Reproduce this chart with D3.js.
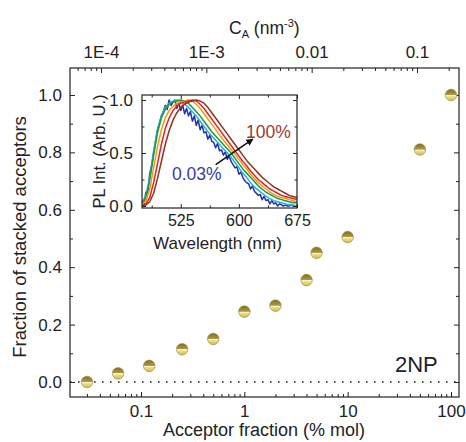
<!DOCTYPE html>
<html>
<head>
<meta charset="utf-8">
<script src="https://cdn.jsdelivr.net/npm/d3@7"></script>
<style>
  body { margin: 0; background: #fff; }
  text { font-family: "Liberation Sans", Arial, sans-serif; fill: #222; }
</style>
</head>
<body>
<svg id="chart" width="466" height="442"></svg>
<script>
// ---- main panel: fraction of stacked acceptors vs acceptor fraction ----
const acceptorFraction = [0.03, 0.06, 0.12, 0.25, 0.5, 1, 2, 4, 5, 10, 50, 100];
const stackedFraction  = [0.0, 0.03, 0.056, 0.114, 0.15, 0.245, 0.266, 0.355, 0.45, 0.505, 0.81, 1.0];

const bottomTicks = [0.1, 1, 10, 100];
const bottomTickLabels = ["0.1", "1", "10", "100"];
const bottomMinor = [0.03,0.04,0.05,0.06,0.07,0.08,0.09,0.2,0.3,0.4,0.5,0.6,0.7,0.8,0.9,
                     2,3,4,5,6,7,8,9,20,30,40,50,60,70,80,90];
const topTicks = [1e-4, 1e-3, 0.01, 0.1];
const topTickLabels = ["1E-4", "1E-3", "0.01", "0.1"];
const topMinor = [6e-5,7e-5,8e-5,9e-5,2e-4,3e-4,4e-4,5e-4,6e-4,7e-4,8e-4,9e-4,
                  0.002,0.003,0.004,0.005,0.006,0.007,0.008,0.009,0.02,0.03,0.04,0.05,0.06,0.07,0.08,0.09,0.2];
const yTicks = [0.0, 0.2, 0.4, 0.6, 0.8, 1.0];
const yMinor = [0.1, 0.3, 0.5, 0.7, 0.9];

// ---- inset: normalised PL spectra ----
const wl = [475,480,485,490,495,500,505,510,515,520,525,530,535,540,545,550,555,560,565,570,
            575,580,585,590,595,600,605,610,615,620,625,630,635,640,645,650,655,660,665,670,675];
const plCyan   = [0.03,0.10,0.27,0.52,0.72,0.85,0.93,0.97,0.99,1.00,0.99,0.96,0.93,0.89,0.85,0.80,0.75,0.70,0.66,0.62,
                  0.58,0.54,0.50,0.46,0.41,0.36,0.31,0.27,0.22,0.18,0.15,0.12,0.09,0.07,0.05,0.04,0.03,0.02,0.01,0.01,0.00];
const plGreen  = [0.02,0.08,0.24,0.48,0.69,0.83,0.91,0.96,0.98,0.99,1.00,0.99,0.97,0.93,0.89,0.85,0.80,0.75,0.70,0.66,
                  0.62,0.58,0.54,0.50,0.45,0.40,0.35,0.31,0.27,0.23,0.19,0.16,0.13,0.11,0.09,0.07,0.06,0.05,0.04,0.03,0.03];
const plOrange = [0.01,0.05,0.16,0.36,0.56,0.72,0.83,0.90,0.94,0.97,0.98,0.99,1.00,0.99,0.96,0.92,0.87,0.82,0.77,0.72,
                  0.67,0.62,0.58,0.53,0.49,0.44,0.39,0.35,0.30,0.26,0.22,0.19,0.16,0.13,0.11,0.09,0.08,0.07,0.06,0.05,0.04];
const plRed    = [0.00,0.02,0.08,0.22,0.40,0.58,0.73,0.83,0.90,0.94,0.97,0.98,0.99,1.00,0.99,0.96,0.92,0.87,0.82,0.77,
                  0.72,0.67,0.62,0.57,0.52,0.47,0.42,0.38,0.33,0.29,0.25,0.22,0.19,0.16,0.14,0.12,0.10,0.09,0.08,0.07,0.06];
const plBrown  = [0.00,0.01,0.04,0.12,0.26,0.42,0.58,0.71,0.81,0.88,0.93,0.96,0.98,0.99,1.00,0.99,0.97,0.93,0.88,0.83,
                  0.78,0.73,0.68,0.63,0.58,0.53,0.48,0.43,0.39,0.35,0.31,0.27,0.24,0.21,0.18,0.16,0.14,0.12,0.10,0.09,0.08];
// lowest concentration: noisier spectrum on a finer wavelength grid
const wlFine = [475,477.5,480,482.5,485,487.5,490,492.5,495,497.5,500,502.5,505,507.5,510,512.5,515,517.5,520,522.5,
                525,527.5,530,532.5,535,537.5,540,542.5,545,547.5,550,552.5,555,557.5,560,562.5,565,567.5,570,572.5,
                575,577.5,580,582.5,585,587.5,590,592.5,595,597.5,600,602.5,605,607.5,610,612.5,615,617.5,620,622.5,
                625,627.5,630,632.5,635,637.5,640,642.5,645,647.5,650,652.5,655,657.5,660,662.5,665,667.5,670,672.5,675];
const plBlue = [0.05,0.01,0.13,0.12,0.31,0.38,0.50,0.61,0.72,0.78,0.85,0.89,0.95,0.91,1.00,0.95,0.98,1.00,0.92,0.97,
                0.90,0.95,0.87,0.92,0.85,0.89,0.80,0.85,0.76,0.81,0.72,0.76,0.69,0.70,0.63,0.67,0.61,0.60,0.55,0.59,
                0.52,0.53,0.48,0.51,0.44,0.47,0.42,0.39,0.36,0.37,0.30,0.32,0.27,0.24,0.22,0.21,0.16,0.19,0.14,0.12,
                0.10,0.11,0.06,0.09,0.05,0.06,0.02,0.05,0.02,0.03,0.00,0.02,0.01,0.00,0.01,0.00,0.00,0.01,0.00,0.00,0.00];

const spectra = [
  { x: wlFine, y: plBlue,   color: "#2b2fa6" },
  { x: wl,     y: plCyan,   color: "#1fb2e6" },
  { x: wl,     y: plGreen,  color: "#1f9a3a" },
  { x: wl,     y: plOrange, color: "#f39a12" },
  { x: wl,     y: plRed,    color: "#e3231f" },
  { x: wl,     y: plBrown,  color: "#8c3424" }
];
const insetXTicks = [525, 600, 675];
const insetXMinor = [487.5, 562.5, 637.5];
const insetYTicks = [0.0, 0.5, 1.0];
const insetYMinor = [0.25, 0.75];

const svg = d3.select("#chart");

// marker shading
const defs = svg.append("defs");
const grad = defs.append("linearGradient").attr("id", "ball")
  .attr("x1", 0).attr("y1", 0).attr("x2", 0).attr("y2", 1);
grad.append("stop").attr("offset", "0").attr("stop-color", "#7e6c22");
grad.append("stop").attr("offset", "0.5").attr("stop-color", "#b09b45");
grad.append("stop").attr("offset", "0.5").attr("stop-color", "#f5eca0");
grad.append("stop").attr("offset", "1").attr("stop-color", "#cdb954");

// scales
const L = 70, R = 459, T = 68, B = 397;
const x = d3.scaleLog().domain([0.02055, 119.5]).range([L, R]);
const xTop = d3.scaleLog().domain([5.08e-5, 0.2506]).range([L, R]);
const y = d3.scaleLinear().domain([-0.0523, 1.094]).range([B, T]);

function styleAxis(g, size) {
  g.select(".domain").remove();
  g.selectAll(".tick line").attr("stroke", "#222").attr("stroke-width", 1);
  g.selectAll(".tick text").style("font-size", (size || 17) + "px").attr("fill", "#222");
}

// zero reference line
svg.append("line")
  .attr("x1", L).attr("x2", R).attr("y1", y(0)).attr("y2", y(0))
  .attr("stroke", "#222").attr("stroke-width", 1.6)
  .attr("stroke-dasharray", "1.6,6.4");

// bottom axis
svg.append("g").attr("transform", `translate(0,${B})`)
  .call(d3.axisBottom(x).tickValues(bottomTicks).tickFormat((d, i) => bottomTickLabels[i])
        .tickSizeInner(-5).tickSizeOuter(0).tickPadding(8)).call(styleAxis);
svg.append("g").attr("transform", `translate(0,${B})`)
  .call(d3.axisBottom(x).tickValues(bottomMinor).tickFormat("").tickSizeInner(-3).tickSizeOuter(0)).call(styleAxis);

// top axis
svg.append("g").attr("transform", `translate(0,${T})`)
  .call(d3.axisTop(xTop).tickValues(topTicks).tickFormat((d, i) => topTickLabels[i])
        .tickSizeInner(-5).tickSizeOuter(0).tickPadding(10)).call(styleAxis);
svg.append("g").attr("transform", `translate(0,${T})`)
  .call(d3.axisTop(xTop).tickValues(topMinor).tickFormat("").tickSizeInner(-3).tickSizeOuter(0)).call(styleAxis);

// left axis
svg.append("g").attr("transform", `translate(${L},0)`)
  .call(d3.axisLeft(y).tickValues(yTicks).tickFormat(d3.format(".1f"))
        .tickSizeInner(-5).tickSizeOuter(0).tickPadding(8)).call(styleAxis);
svg.append("g").attr("transform", `translate(${L},0)`)
  .call(d3.axisLeft(y).tickValues(yMinor).tickFormat("").tickSizeInner(-3).tickSizeOuter(0)).call(styleAxis);

// right axis
svg.append("g").attr("transform", `translate(${R},0)`)
  .call(d3.axisRight(y).tickValues(yTicks).tickFormat("").tickSizeInner(-5).tickSizeOuter(0)).call(styleAxis);
svg.append("g").attr("transform", `translate(${R},0)`)
  .call(d3.axisRight(y).tickValues(yMinor).tickFormat("").tickSizeInner(-3).tickSizeOuter(0)).call(styleAxis);

// frame
svg.append("rect").attr("x", L).attr("y", T).attr("width", R - L).attr("height", B - T)
  .attr("fill", "none").attr("stroke", "#222").attr("stroke-width", 1.2);

// axis titles
svg.append("text").attr("x", 264).attr("y", 436).attr("text-anchor", "middle")
  .style("font-size", "18px").text("Acceptor fraction (% mol)");
svg.append("text").attr("transform", "translate(26,237) rotate(-90)").attr("text-anchor", "middle")
  .style("font-size", "18.5px").text("Fraction of stacked acceptors");
const topTitle = svg.append("text").attr("x", 229).attr("y", 34).style("font-size", "17.5px");
topTitle.append("tspan").text("C");
topTitle.append("tspan").attr("dy", 4).style("font-size", "11px").text("A");
topTitle.append("tspan").attr("dy", -4).text(" (nm");
topTitle.append("tspan").attr("dy", -7).style("font-size", "11px").text("-3");
topTitle.append("tspan").attr("dy", 7).text(")");

svg.append("text").attr("x", 395).attr("y", 372).style("font-size", "22px").text("2NP");

// data markers
const pts = svg.append("g");
acceptorFraction.forEach((f, i) => {
  const cx = x(f), cy = y(stackedFraction[i]);
  pts.append("circle").attr("cx", cx).attr("cy", cy).attr("r", 5.8)
    .attr("fill", "url(#ball)").attr("stroke", "#9a8734").attr("stroke-width", 0.6);
  pts.append("line").attr("x1", cx - 4.6).attr("x2", cx + 4.6).attr("y1", cy + 0.6).attr("y2", cy + 0.6)
    .attr("stroke", "#fffbe0").attr("stroke-width", 0.8);
});

// ---- inset ----
const iL = 142, iR = 297, iT = 95, iB = 208;
const ix = d3.scaleLinear().domain([475, 675]).range([iL, iR]);
const iy = d3.scaleLinear().domain([-0.019, 1.047]).range([iB, iT]);

svg.append("rect").attr("x", iL).attr("y", iT).attr("width", iR - iL).attr("height", iB - iT).attr("fill", "#fff");

defs.append("clipPath").attr("id", "insetClip").append("rect")
  .attr("x", iL).attr("y", iT).attr("width", iR - iL).attr("height", iB - iT);

const line = d3.line().x(d => ix(d[0])).y(d => iy(d[1]));
const curves = svg.append("g").attr("clip-path", "url(#insetClip)");
spectra.forEach(s => {
  curves.append("path").datum(s.x.map((w, i) => [w, s.y[i]]))
    .attr("d", line).attr("fill", "none").attr("stroke", s.color)
    .attr("stroke-width", 1.5).attr("stroke-linejoin", "round");
});

svg.append("g").attr("transform", `translate(0,${iB})`)
  .call(d3.axisBottom(ix).tickValues(insetXTicks).tickFormat(d3.format("d"))
        .tickSizeInner(-4).tickSizeOuter(0).tickPadding(7)).call(g => styleAxis(g, 16));
svg.append("g").attr("transform", `translate(0,${iB})`)
  .call(d3.axisBottom(ix).tickValues(insetXMinor).tickFormat("").tickSizeInner(-2.5).tickSizeOuter(0)).call(styleAxis);
svg.append("g").attr("transform", `translate(0,${iT})`)
  .call(d3.axisTop(ix).tickValues(insetXTicks).tickFormat("").tickSizeInner(-4).tickSizeOuter(0)).call(styleAxis);
svg.append("g").attr("transform", `translate(0,${iT})`)
  .call(d3.axisTop(ix).tickValues(insetXMinor).tickFormat("").tickSizeInner(-2.5).tickSizeOuter(0)).call(styleAxis);
svg.append("g").attr("transform", `translate(${iL},0)`)
  .call(d3.axisLeft(iy).tickValues(insetYTicks).tickFormat(d3.format(".1f"))
        .tickSizeInner(-4).tickSizeOuter(0).tickPadding(9)).call(g => styleAxis(g, 17));
svg.append("g").attr("transform", `translate(${iL},0)`)
  .call(d3.axisLeft(iy).tickValues(insetYMinor).tickFormat("").tickSizeInner(-2.5).tickSizeOuter(0)).call(styleAxis);
svg.append("g").attr("transform", `translate(${iR},0)`)
  .call(d3.axisRight(iy).tickValues(insetYTicks).tickFormat("").tickSizeInner(-4).tickSizeOuter(0)).call(styleAxis);
svg.append("g").attr("transform", `translate(${iR},0)`)
  .call(d3.axisRight(iy).tickValues(insetYMinor).tickFormat("").tickSizeInner(-2.5).tickSizeOuter(0)).call(styleAxis);

svg.append("rect").attr("x", iL).attr("y", iT).attr("width", iR - iL).attr("height", iB - iT)
  .attr("fill", "none").attr("stroke", "#222").attr("stroke-width", 1.2);

svg.append("text").attr("x", (iL + iR) / 2 - 2).attr("y", 249).attr("text-anchor", "middle")
  .style("font-size", "17px").text("Wavelength (nm)");
svg.append("text").attr("transform", `translate(105,${(iT + iB) / 2}) rotate(-90)`).attr("text-anchor", "middle")
  .style("font-size", "16.5px").text("PL Int. (Arb. U.)");

// concentration labels and arrow
defs.append("marker").attr("id", "arrowHead").attr("viewBox", "0 0 10 10")
  .attr("refX", 9).attr("refY", 5).attr("markerWidth", 7).attr("markerHeight", 7)
  .attr("orient", "auto").attr("markerUnits", "userSpaceOnUse")
  .append("path").attr("d", "M0,0 L10,5 L0,10 Z").attr("fill", "#111");
svg.append("line").attr("x1", ix(570)).attr("y1", iy(0.39)).attr("x2", ix(618)).attr("y2", iy(0.63))
  .attr("stroke", "#111").attr("stroke-width", 1.5).attr("marker-end", "url(#arrowHead)");
svg.append("text").attr("x", 246).attr("y", 138).style("font-size", "17.5px").style("fill", "#9a3b2c").text("100%");
svg.append("text").attr("x", 172).attr("y", 180).style("font-size", "17.5px").style("fill", "#3a3aac").text("0.03%");
</script>
</body>
</html>
